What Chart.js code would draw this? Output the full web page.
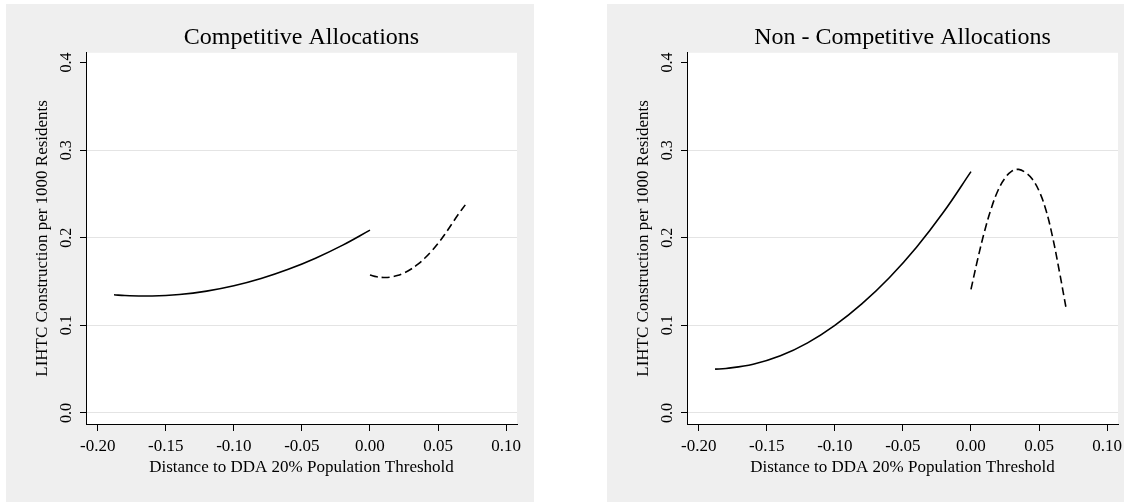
<!DOCTYPE html>
<html>
<head>
<meta charset="utf-8">
<script src="https://cdn.jsdelivr.net/npm/chart.js@4.4.1/dist/chart.umd.min.js"></script>
<style>
  html, body { margin: 0; padding: 0; background: #fff; }
  body { width: 1124px; height: 502px; position: relative; overflow: hidden; }
  canvas { position: absolute; background: #efefef; }
  #left { left: 6px; top: 4px; }
  #right { left: 607px; top: 4px; }
</style>
</head>
<body>
<canvas id="left" width="528" height="498"></canvas>
<canvas id="right" width="517" height="498"></canvas>
<script>
// axis ticks
const xTicks = [-0.20, -0.15, -0.10, -0.05, 0.00, 0.05, 0.10];
const yTicks = [0.0, 0.1, 0.2, 0.3, 0.4];

// below the threshold (solid) and above it (dashed)
const belowX = [-0.188, -0.18, -0.16, -0.14, -0.12, -0.10, -0.08, -0.06, -0.04, -0.02, 0.00];
const aboveX = [0.000, 0.005, 0.010, 0.015, 0.020, 0.025, 0.030, 0.035, 0.040, 0.045, 0.050, 0.055, 0.060, 0.065, 0.070];

// competitive allocations
const compBelow = [0.1349, 0.134, 0.1335, 0.1352, 0.1391, 0.1452, 0.1535, 0.164, 0.1767, 0.1916, 0.2087];
const compAbove = [0.1575, 0.1555, 0.1547, 0.1551, 0.1568, 0.1598, 0.164, 0.1695, 0.1763, 0.1843, 0.1935, 0.204, 0.2155, 0.227, 0.2375];

// non-competitive allocations
const nonCompBelow = [0.050, 0.0508, 0.0556, 0.0652, 0.080, 0.100, 0.1248, 0.1544, 0.1892, 0.2296, 0.2755];
const nonCompAbove = [0.141, 0.176, 0.2075, 0.234, 0.2545, 0.268, 0.276, 0.278, 0.2745, 0.267, 0.2535, 0.232, 0.2005, 0.161, 0.1185];

const serif = "'Liberation Serif', 'Times New Roman', serif";

const pts = (xs, ys) => xs.map((x, i) => ({ x: x, y: ys[i] }));

// white plot region on the grey graph region
const whitePlot = {
    id: 'whitePlot',
    beforeDraw(chart) {
        const { ctx, chartArea: a } = chart;
        ctx.save();
        ctx.fillStyle = '#fff';
        ctx.fillRect(a.left, a.top, a.right - a.left, a.bottom - a.top);
        ctx.restore();
    }
};

function makeChart(id, title, below, above, padRight) {
    new Chart(document.getElementById(id), {
        type: 'scatter',
        data: {
            datasets: [
                {
                    data: pts(belowX, below),
                    showLine: true,
                    borderColor: '#000',
                    borderWidth: 1.6,
                    pointRadius: 0,
                    tension: 0.4
                },
                {
                    data: pts(aboveX, above),
                    showLine: true,
                    borderColor: '#000',
                    borderWidth: 1.6,
                    borderDash: [8, 4],
                    pointRadius: 0,
                    tension: 0.4
                }
            ]
        },
        options: {
            responsive: false,
            animation: false,
            layout: { padding: { left: 0, right: padRight, top: 0, bottom: 0 } },
            plugins: {
                legend: { display: false },
                tooltip: { enabled: false },
                title: {
                    display: true,
                    text: title,
                    fullSize: false,
                    color: '#000',
                    font: { family: serif, size: 24, weight: 'normal', lineHeight: 1.2 },
                    padding: { top: 19, bottom: 1 }
                }
            },
            scales: {
                x: {
                    type: 'linear',
                    min: -0.2086,
                    max: 0.108,
                    afterBuildTicks: s => { s.ticks = xTicks.map(v => ({ value: v })); },
                    afterFit: s => { s.height = 78; s.paddingLeft = 0; s.paddingRight = 0; },
                    border: { display: true, color: '#000', width: 1 },
                    grid: { drawOnChartArea: false, drawTicks: true, tickLength: 7, color: '#000' },
                    ticks: {
                        color: '#000',
                        font: { family: serif, size: 17 },
                        padding: 5,
                        maxRotation: 0,
                        callback: v => v.toFixed(2)
                    },
                    title: {
                        display: true,
                        text: 'Distance to DDA 20% Population Threshold',
                        color: '#000',
                        font: { family: serif, size: 17 },
                        padding: { top: 0, bottom: 24 }
                    }
                },
                y: {
                    type: 'linear',
                    min: -0.0126,
                    max: 0.4111,
                    afterBuildTicks: s => { s.ticks = yTicks.map(v => ({ value: v })); },
                    afterFit: s => { s.width = 80; s.paddingTop = 0; s.paddingBottom = 0; },
                    border: { display: true, color: '#000', width: 1 },
                    grid: {
                        color: c => (c.tick && c.tick.value > 0.35) ? 'rgba(0,0,0,0)' : '#e4e4e4',
                        tickColor: '#000',
                        tickLength: 6,
                        lineWidth: 1
                    },
                    ticks: {
                        color: '#000',
                        font: { family: serif, size: 16 },
                        minRotation: 90,
                        maxRotation: 90,
                        crossAlign: 'center',
                        padding: 3,
                        callback: v => v.toFixed(1)
                    },
                    title: {
                        display: true,
                        text: 'LIHTC Construction per 1000 Residents',
                        color: '#000',
                        font: { family: serif, size: 17 },
                        padding: { top: 26, bottom: 0 }
                    }
                }
            }
        },
        plugins: [whitePlot]
    });
}

makeChart('left', 'Competitive Allocations', compBelow, compAbove, 17);
makeChart('right', 'Non - Competitive Allocations', nonCompBelow, nonCompAbove, 6);
</script>
</body>
</html>
